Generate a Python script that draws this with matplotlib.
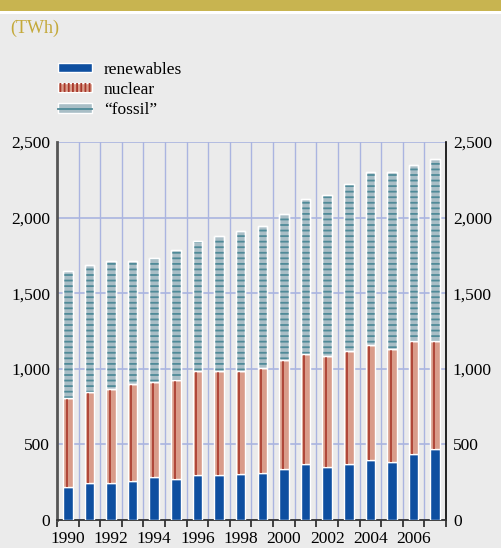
import numpy as np
import matplotlib
matplotlib.use("Agg")
from matplotlib import pyplot as plt
from matplotlib.patches import Rectangle, Patch
from matplotlib.lines import Line2D
from matplotlib.ticker import FuncFormatter

# values (TWh)
years = list(range(1990, 2008))
renewables = [220, 247, 247, 260, 282, 269, 296, 296, 306,
              309, 335, 370, 348, 370, 395, 384, 434, 472]
nuclear_top = [809, 847, 868, 897, 911, 924, 983, 983, 983,
               1007, 1058, 1096, 1083, 1120, 1160, 1133, 1182, 1184]
total = [1647, 1687, 1711, 1711, 1735, 1784, 1847, 1876, 1911,
         1946, 2024, 2123, 2150, 2224, 2300, 2300, 2350, 2385]
series_names = ["renewables", "nuclear", "\u201cfossil\u201d"]

nuclear = np.array(nuclear_top) - np.array(renewables)
fossil = np.array(total) - np.array(nuclear_top)

plt.rcParams['font.family'] = ['Liberation Serif', 'DejaVu Serif']
plt.rcParams['hatch.linewidth'] = 1.3

bg = "#ebebeb"
gold = "#c8b450"
blue = "#0e4fa0"
salmon = "#d99c8a"
darkred = "#a8382b"
fossil_fill = "#a9bec6"
fossil_line = "#4f8a98"
grid_c = "#aab4e0"

fig = plt.figure(figsize=(5.02, 5.48), dpi=100, facecolor=bg)
fig.patches.append(Rectangle((0, 1 - 11/548), 1, 11/548, transform=fig.transFigure,
                             facecolor=gold, edgecolor="none", zorder=0))
fig.patches.append(Rectangle((0, 1 - 14/548), 1, 3/548, transform=fig.transFigure,
                             facecolor="white", edgecolor="none", zorder=0))
fig.text(10/502, 1 - 28/548, "(TWh)", color="#c4a93a", fontsize=13, va="center", ha="left")

ax = fig.add_axes([57/502, 1 - 520/548, (446 - 57)/502, (520 - 142)/548])
ax.set_facecolor(bg)

x = np.arange(len(years))
w = 0.44
ax.bar(x, renewables, width=w, color=blue, edgecolor="white", linewidth=1, zorder=3)
ax.bar(x, nuclear, width=w, bottom=renewables, color=salmon, edgecolor="white",
       linewidth=1, zorder=3)
ax.vlines(x - 0.06, renewables, nuclear_top, color=darkred, linewidth=1.2, zorder=4)
ax.bar(x, fossil, width=w, bottom=nuclear_top, color=fossil_fill, edgecolor="white",
       linewidth=1, zorder=3)
ax.bar(x, fossil, width=w, bottom=nuclear_top, color="none", edgecolor=fossil_line,
       hatch="---", linewidth=0, zorder=4)
ax.bar(x, fossil, width=w, bottom=nuclear_top, color="none", edgecolor="white",
       linewidth=1, zorder=5)

ax.set_xlim(-0.5, len(years) - 0.5)
ax.set_ylim(0, 2500)
ax.set_yticks(np.arange(0, 2501, 500))
ax.yaxis.set_major_formatter(FuncFormatter(lambda v, p: f"{int(v):,}"))
ax.tick_params(axis="y", length=0, labelsize=12.5, pad=5, labelright=True, right=True)
ax.grid(axis="y", color=grid_c, linewidth=1.2, zorder=1)
for b in x[:-1] + 0.5:
    ax.axvline(b, color=grid_c, linewidth=1, zorder=1)

ax.set_xticks(x[::2])
ax.set_xticklabels([str(y) for y in years[::2]])
ax.set_xticks(np.arange(-0.5, len(years)), minor=True)
ax.tick_params(axis="x", which="major", length=0, labelsize=12.5, pad=8)
ax.tick_params(axis="x", which="minor", length=5, width=1.3, color="#333333", direction="out")

ax.spines["top"].set_visible(False)
ax.spines["left"].set_color("#555555")
ax.spines["left"].set_linewidth(2)
ax.spines["right"].set_color("black")
ax.spines["right"].set_linewidth(1.2)
ax.spines["bottom"].set_color("#333333")
ax.spines["bottom"].set_linewidth(1.3)

handles = [
    Patch(facecolor=blue, edgecolor="white", linewidth=1),
    (Patch(facecolor=salmon, edgecolor="white", linewidth=1),
     Patch(facecolor="none", edgecolor=darkred, hatch="||||", linewidth=0)),
    (Patch(facecolor=fossil_fill, edgecolor="white", linewidth=1),
     Line2D([], [], color=fossil_line, linewidth=1.3)),
]
fig.legend(handles, series_names, loc="upper left",
           bbox_to_anchor=(42/502, 1 - 46/548), frameon=False, fontsize=12.5,
           handlelength=2.0, handleheight=0.45, labelspacing=0.25, handletextpad=0.65)

fig.savefig("out.png", dpi=100, facecolor=bg)
